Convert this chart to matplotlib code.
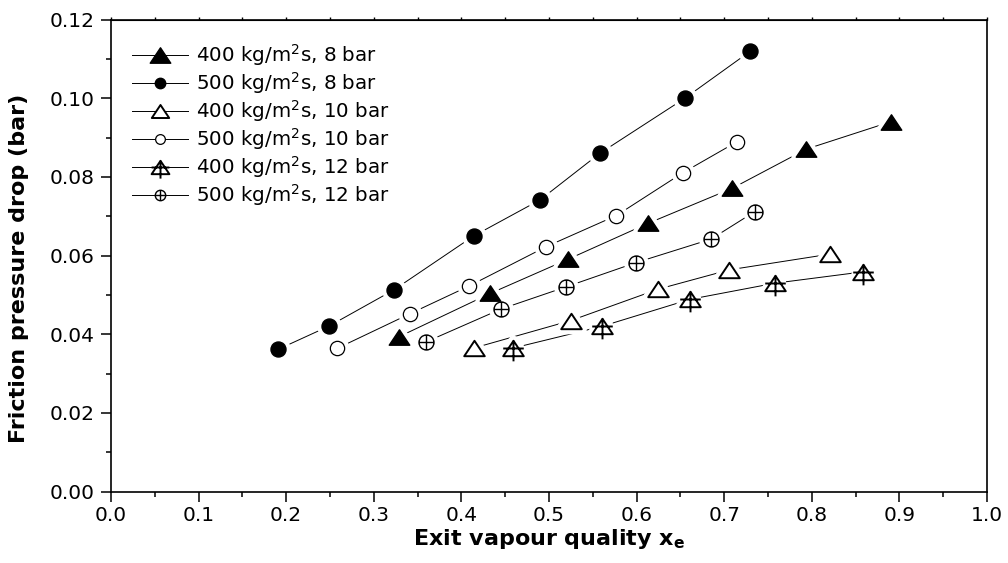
import matplotlib
matplotlib.use("Agg")
import matplotlib.pyplot as plt
from matplotlib.path import Path
from matplotlib.lines import Line2D
from matplotlib.ticker import MultipleLocator, FormatStrFormatter

# exit vapour quality and friction pressure drop (bar) for each test case
x_400_8 = [0.329, 0.433, 0.522, 0.613, 0.709, 0.794, 0.891]
dp_400_8 = [0.0394, 0.0504, 0.0591, 0.0682, 0.0771, 0.0871, 0.0941]

x_500_8 = [0.191, 0.249, 0.323, 0.414, 0.490, 0.558, 0.655, 0.730]
dp_500_8 = [0.0362, 0.0421, 0.0513, 0.0650, 0.0742, 0.0860, 0.1000, 0.1120]

x_400_10 = [0.414, 0.525, 0.625, 0.706, 0.821]
dp_400_10 = [0.0365, 0.0435, 0.0515, 0.0564, 0.0604]

x_500_10 = [0.258, 0.341, 0.409, 0.497, 0.577, 0.653, 0.715]
dp_500_10 = [0.0364, 0.0452, 0.0523, 0.0623, 0.0702, 0.0811, 0.0890]

x_400_12 = [0.459, 0.560, 0.661, 0.758, 0.859]
dp_400_12 = [0.0365, 0.0420, 0.0489, 0.0530, 0.0559]

x_500_12 = [0.360, 0.445, 0.520, 0.599, 0.685, 0.735]
dp_500_12 = [0.0381, 0.0464, 0.0521, 0.0582, 0.0642, 0.0712]

labels = [
    "400 kg/m$^2$s, 8 bar",
    "500 kg/m$^2$s, 8 bar",
    "400 kg/m$^2$s, 10 bar",
    "500 kg/m$^2$s, 10 bar",
    "400 kg/m$^2$s, 12 bar",
    "500 kg/m$^2$s, 12 bar",
]

M, L, C = Path.MOVETO, Path.LINETO, Path.CLOSEPOLY

# wide triangle like the Origin symbol
tri = Path([(-1, -0.75), (1, -0.75), (0, 0.75), (-1, -0.75)], [M, L, L, C])
# triangle with a cross through it
tri_cross = Path(
    [(-0.8, -0.6), (0.8, -0.6), (0, 0.6), (-0.8, -0.6),
     (0, 0.6), (0, -1.0), (-0.8, 0), (0.8, 0)],
    [M, L, L, C, M, L, M, L])
# circle with a cross through it
circ_cross = Path.make_compound_path(
    Path.unit_circle(),
    Path([(-1, 0), (1, 0), (0, -1), (0, 1)], [M, L, M, L]))

series = [
    dict(x=x_400_8, y=dp_400_8, marker=tri, ms=14.8, mfc="k", mew=1.0, lms=14.8),
    dict(x=x_500_8, y=dp_500_8, marker="o", ms=10.8, mfc="k", mew=1.0, lms=7.5),
    dict(x=x_400_10, y=dp_400_10, marker=tri, ms=14.8, mfc="w", mew=1.4, lms=12.5),
    dict(x=x_500_10, y=dp_500_10, marker="o", ms=10.3, mfc="w", mew=0.9, lms=7.0),
    dict(x=x_400_12, y=dp_400_12, marker=tri_cross, ms=18.5, mfc="w", mew=1.4, lms=16.0),
    dict(x=x_500_12, y=dp_500_12, marker=circ_cross, ms=10.8, mfc="w", mew=1.0, lms=7.5),
]

fig = plt.figure(figsize=(10.08, 5.63), dpi=100)
ax = fig.add_axes([0.1101, 0.1267, 0.869, 0.8384])

handles = []
for s, lab in zip(series, labels):
    ax.plot(s["x"], s["y"], color="k", lw=0.7, zorder=2)
    # white halo so the connecting line stops short of each symbol
    ax.plot(s["x"], s["y"], ls="none", marker=s["marker"], ms=s["ms"],
            mfc="w", mec="w", mew=s["mew"] + 6, zorder=3)
    ax.plot(s["x"], s["y"], ls="none", marker=s["marker"], ms=s["ms"],
            mfc=s["mfc"], mec="k", mew=s["mew"], zorder=4)
    handles.append(Line2D([], [], color="k", lw=0.7, marker=s["marker"],
                          ms=s["lms"], mfc=s["mfc"], mec="k", mew=s["mew"]))

ax.set_xlim(0, 1.0)
ax.set_ylim(0, 0.12)
ax.xaxis.set_major_locator(MultipleLocator(0.1))
ax.xaxis.set_minor_locator(MultipleLocator(0.05))
ax.yaxis.set_major_locator(MultipleLocator(0.02))
ax.yaxis.set_minor_locator(MultipleLocator(0.01))
ax.xaxis.set_major_formatter(FormatStrFormatter("%.1f"))
ax.yaxis.set_major_formatter(FormatStrFormatter("%.2f"))

ax.tick_params(which="major", direction="out", length=7, width=1.1,
               labelsize=14.5, pad=3)
ax.tick_params(which="minor", direction="out", length=3.5, width=1.1)
ax.tick_params(axis="y", which="major", pad=5)
for sp in ax.spines.values():
    sp.set_linewidth(1.2)

top = ax.secondary_xaxis("top")
top.xaxis.set_major_locator(MultipleLocator(0.05))
top.tick_params(direction="out", length=2.5, width=1.0, labeltop=False)

ax.set_xlabel("Exit vapour quality x$_\\mathbf{e}$", fontsize=16, fontweight="bold")
ax.set_ylabel("Friction pressure drop (bar)", fontsize=16, fontweight="bold")
ax.xaxis.set_label_coords(0.5, -0.075)
ax.yaxis.set_label_coords(-0.094, 0.474)

ax.legend(handles, labels, loc="upper left", bbox_to_anchor=(0.019, 0.96),
          frameon=False, fontsize=14.3, handlelength=2.85, handletextpad=0.4,
          labelspacing=0.1, borderpad=0.2, borderaxespad=0)

fig.savefig("out.png", dpi=100)
